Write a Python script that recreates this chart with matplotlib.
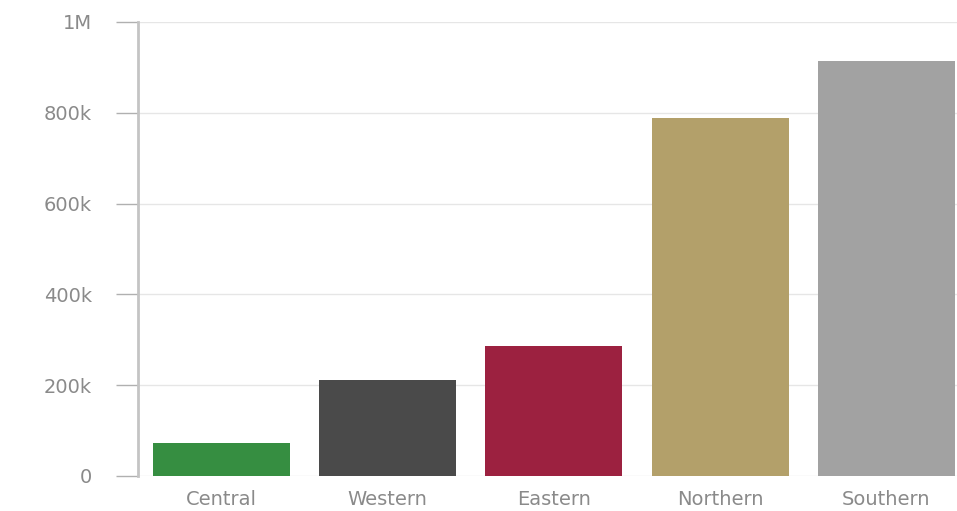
import matplotlib.pyplot as plt
from matplotlib.ticker import FuncFormatter

regions = ["Central", "Western", "Eastern", "Northern", "Southern"]
values = [72000, 211000, 286000, 789000, 915000]
colors = ["#368e41", "#4a4a4a", "#9c2140", "#b3a06a", "#a2a2a2"]
yticks = [0, 200000, 400000, 600000, 800000, 1000000]


def fmt(v, pos):
    if v >= 1000000:
        return "%gM" % (v / 1000000)
    if v >= 1000:
        return "%gk" % (v / 1000)
    return "%g" % v


fig = plt.figure(figsize=(9.57, 5.11), dpi=100)
ax = fig.add_axes([0.1442, 0.0685, 0.869, 0.8885])

ax.bar(regions, values, width=0.825, color=colors, zorder=2)

ax.set_xlim(-0.5, 4.5)
ax.set_ylim(0, 1000000)
ax.set_yticks(yticks)
ax.yaxis.set_major_formatter(FuncFormatter(fmt))
ax.grid(axis="y", color="#e6e6e6", linewidth=1, zorder=0)

for s in ["top", "right", "bottom"]:
    ax.spines[s].set_visible(False)
ax.spines["left"].set_color("#c4c4c4")
ax.spines["left"].set_linewidth(2)

ax.tick_params(axis="y", length=16, width=1, color="#b0b0b0", labelcolor="#8a8a8a",
               labelsize=14, pad=17)
ax.tick_params(axis="x", length=0, labelcolor="#8a8a8a", labelsize=14, pad=10)
for lab in ax.get_xticklabels() + ax.get_yticklabels():
    lab.set_family("DejaVu Sans")

fig.savefig("out.png", dpi=100)
